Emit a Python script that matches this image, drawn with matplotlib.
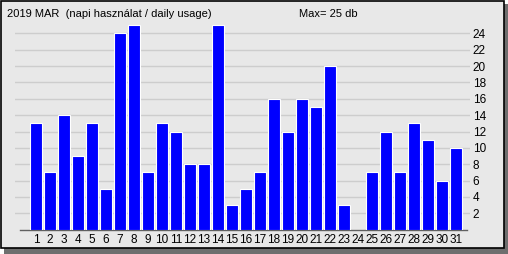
import matplotlib
matplotlib.use("Agg")
import matplotlib.pyplot as plt
from matplotlib.patches import Rectangle

days = list(range(1, 32))
usage = [13, 7, 14, 9, 13, 5, 24, 25, 7, 13, 12, 8, 8, 25, 3,
         5, 7, 16, 12, 16, 15, 20, 3, 0, 7, 12, 7, 13, 11, 6, 10]
title = "2019 MAR  (napi használat / daily usage)"
yticks = list(range(2, 25, 2))

W, H = 508, 254
plt.rcParams['font.family'] = ['Liberation Sans', 'DejaVu Sans']

fig = plt.figure(figsize=(W / 100, H / 100), dpi=100)
fig.patch.set_facecolor('white')

# shadow + panel
fig.patches.append(Rectangle((4 / W, 0), (W - 4) / W, (H - 4) / H,
                             transform=fig.transFigure, facecolor='#6e6e6e',
                             edgecolor='none', zorder=-3))
fig.patches.append(Rectangle((0.5 / W, 6.5 / H), 503 / W, 247 / H,
                             transform=fig.transFigure, facecolor='#e8e8e8',
                             edgecolor='black', linewidth=1.2, zorder=-2))

ax = fig.add_axes([15 / W, 24.3 / H, 455 / W, 209.7 / H])
ax.set_facecolor('none')
ax.bar(days, usage, width=0.8, color='#0000ff', edgecolor='white',
       linewidth=0.8, zorder=3)

ax.set_xlim(-0.5, 32)
ax.set_ylim(0, 25.64)
ax.set_xticks(days)
ax.set_xticklabels([str(d) for d in days])
ax.yaxis.tick_right()
ax.set_yticks(yticks)
ax.grid(axis='y', color='#cdcdcd', linewidth=1.0, zorder=1)
ax.tick_params(axis='both', length=0, labelsize=8.5, colors='black')
ax.tick_params(axis='x', pad=3)
ax.tick_params(axis='y', pad=2)

for s in ['top', 'left', 'right']:
    ax.spines[s].set_visible(False)
ax.spines['bottom'].set_color('#606060')
ax.spines['bottom'].set_linewidth(1.0)
ax.spines['bottom'].set_bounds(-0.14, 31.8)

fig.text(7 / W, 1 - 14 / H, title, fontsize=8, va='center', ha='left')
fig.text(299 / W, 1 - 14 / H, f"Max= {max(usage)} db", fontsize=8,
         va='center', ha='left')

fig.savefig("out.png", dpi=100)
